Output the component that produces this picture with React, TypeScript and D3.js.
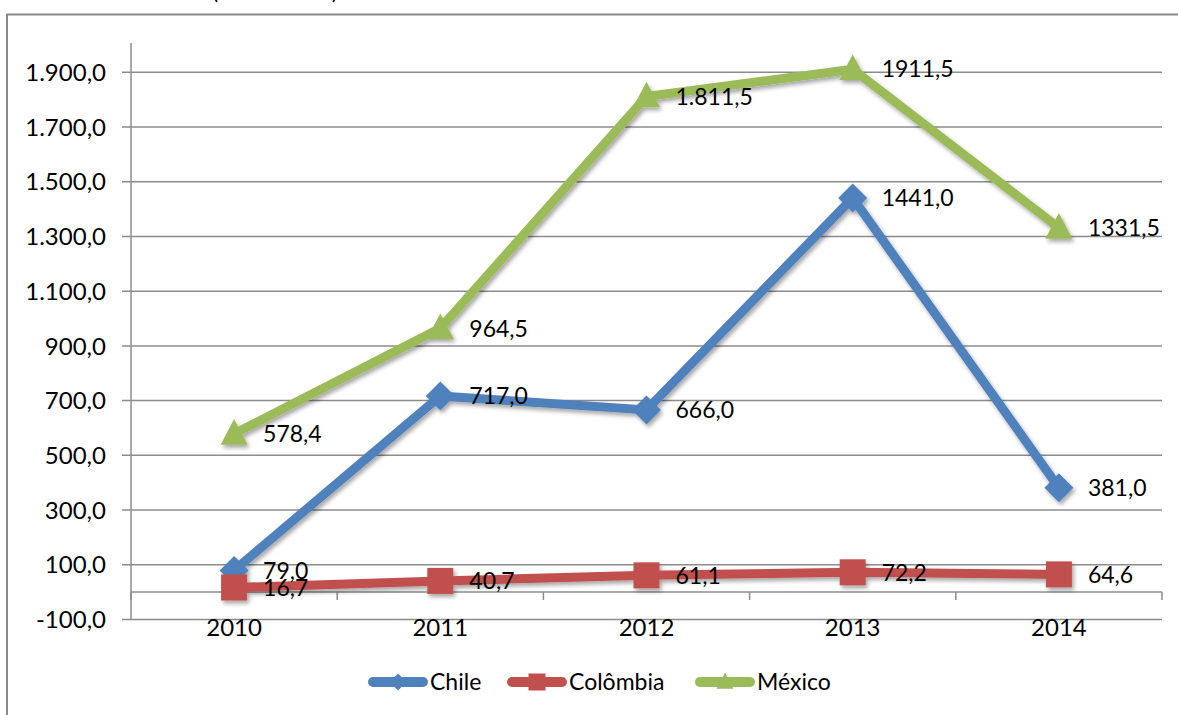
import React from "react";
import * as d3 from "d3";

// Years on the category axis
const years = ["2010", "2011", "2012", "2013", "2014"];

// Series values
const chile = [79.0, 717.0, 666.0, 1441.0, 381.0];
const colombia = [16.7, 40.7, 61.1, 72.2, 64.6];
const mexico = [578.4, 964.5, 1811.5, 1911.5, 1331.5];

// Data labels as printed next to each point
const chileLabels = ["79,0", "717,0", "666,0", "1441,0", "381,0"];
const colombiaLabels = ["16,7", "40,7", "61,1", "72,2", "64,6"];
const mexicoLabels = ["578,4", "964,5", "1.811,5", "1911,5", "1331,5"];

// Value axis ticks
const yTicks = [-100, 100, 300, 500, 700, 900, 1100, 1300, 1500, 1700, 1900];

const seriesNames = ["Chile", "Colômbia", "México"];
const seriesColors = ["#4F81BD", "#C0504D", "#9BBB59"];
const seriesShapes = ["diamond", "square", "triangle"];

const W = 1178;
const H = 715;
const FONT = "Lato, 'Open Sans', sans-serif";

const plot = { left: 131, right: 1162, top: 45, bottom: 619.4 };

const x = d3
  .scaleBand<string>()
  .domain(years)
  .range([plot.left, plot.right])
  .paddingInner(0)
  .paddingOuter(0);

const y = d3.scaleLinear().domain([-100, 2000]).range([plot.bottom, plot.top]);

const fmtLocale = d3.formatLocale({
  decimal: ",",
  thousands: ".",
  grouping: [3],
  currency: ["R$", ""],
  minus: "-",
});
const fmtY = fmtLocale.format(",.1f");

function Marker({ shape, cx, cy, size, color }: { shape: string; cx: number; cy: number; size: number; color: string }) {
  if (shape === "diamond") {
    const h = size / 2;
    return <path d={`M${cx},${cy - h}L${cx + h},${cy}L${cx},${cy + h}L${cx - h},${cy}Z`} fill={color} />;
  }
  if (shape === "square") {
    const h = size / 2;
    return <rect x={cx - h} y={cy - h} width={size} height={size} fill={color} />;
  }
  const w = size;
  const top = cy - size * 0.55;
  const bot = cy + size * 0.4;
  return <path d={`M${cx},${top}L${cx + w / 2},${bot}L${cx - w / 2},${bot}Z`} fill={color} />;
}

export default function App() {
  const series = [
    { values: chile, labels: chileLabels },
    { values: colombia, labels: colombiaLabels },
    { values: mexico, labels: mexicoLabels },
  ];
  const cx = (yr: string) => (x(yr) ?? 0) + x.bandwidth() / 2;
  const line = d3
    .line<number>()
    .x((_, i) => cx(years[i]))
    .y((v) => y(v));

  const markerSizes = [29, 26, 27];
  const legendX = [368, 507, 695];
  const legendY = 682;
  const legendSizes = [17, 17, 17];
  const boundaries = d3.range(years.length + 1).map((i) => plot.left + i * x.bandwidth());

  return (
    <svg
      width={W}
      height={H}
      viewBox={`0 0 ${W} ${H}`}
      style={{ position: "absolute", left: 0, top: 0, background: "#fff" }}
      fontFamily={FONT}
    >
      <defs>
        <filter id="shadow" x="-10%" y="-10%" width="120%" height="130%">
          <feDropShadow dx="2" dy="3" stdDeviation="2" floodColor="#000" floodOpacity="0.35" />
        </filter>
      </defs>

      {/* title fragment above the frame */}
      <text x={212} y={-1} fontSize={23} fill="#000">(em milhões)</text>

      {/* chart frame */}
      <rect x={7} y={14.5} width={W + 20} height={H + 20} fill="none" stroke="#8a8a8a" strokeWidth={2} />

      {/* gridlines */}
      {yTicks.map((t) => (
        <line key={t} x1={plot.left - 9} x2={plot.right} y1={y(t)} y2={y(t)} stroke="#8c8c8c" strokeWidth={1.5} />
      ))}
      {/* value axis */}
      <line x1={plot.left} x2={plot.left} y1={plot.top - 2} y2={plot.bottom} stroke="#8c8c8c" strokeWidth={1.5} />
      {yTicks.map((t) => (
        <text key={t} x={106} y={y(t)} dy="0.36em" textAnchor="end" fontSize={24} fill="#000">
          {fmtY(t)}
        </text>
      ))}

      {/* category axis crossing at zero */}
      <line x1={plot.left} x2={plot.right} y1={y(0)} y2={y(0)} stroke="#8c8c8c" strokeWidth={1.5} />
      {boundaries.map((b, i) => (
        <line key={i} x1={b} x2={b} y1={y(0)} y2={y(0) + 8} stroke="#8c8c8c" strokeWidth={1.5} />
      ))}
      {years.map((yr) => (
        <text key={yr} x={cx(yr)} y={636} textAnchor="middle" fontSize={24} fill="#000">
          {yr}
        </text>
      ))}

      {/* series */}
      {series.map((s, si) => (
        <g key={si} filter="url(#shadow)">
          <path
            d={line(s.values) ?? ""}
            fill="none"
            stroke={seriesColors[si]}
            strokeWidth={9}
            strokeLinejoin="round"
            strokeLinecap="round"
          />
          {s.values.map((v, i) => (
            <Marker key={i} shape={seriesShapes[si]} cx={cx(years[i])} cy={y(v)} size={markerSizes[si]} color={seriesColors[si]} />
          ))}
        </g>
      ))}

      {/* data labels */}
      {series.map((s, si) =>
        s.values.map((v, i) => (
          <text key={`${si}-${i}`} x={cx(years[i]) + 29} y={y(v)} dy="0.36em" fontSize={23} fill="#000">
            {s.labels[i]}
          </text>
        ))
      )}

      {/* legend */}
      {seriesNames.map((name, si) => (
        <g key={name}>
          <line
            x1={legendX[si] + 5}
            x2={legendX[si] + 55}
            y1={legendY}
            y2={legendY}
            stroke={seriesColors[si]}
            strokeWidth={10}
            strokeLinecap="round"
          />
          <Marker shape={seriesShapes[si]} cx={legendX[si] + 30} cy={legendY} size={legendSizes[si]} color={seriesColors[si]} />
          <text x={legendX[si] + 62} y={legendY} dy="0.36em" fontSize={23} fill="#000">
            {name}
          </text>
        </g>
      ))}
    </svg>
  );
}
